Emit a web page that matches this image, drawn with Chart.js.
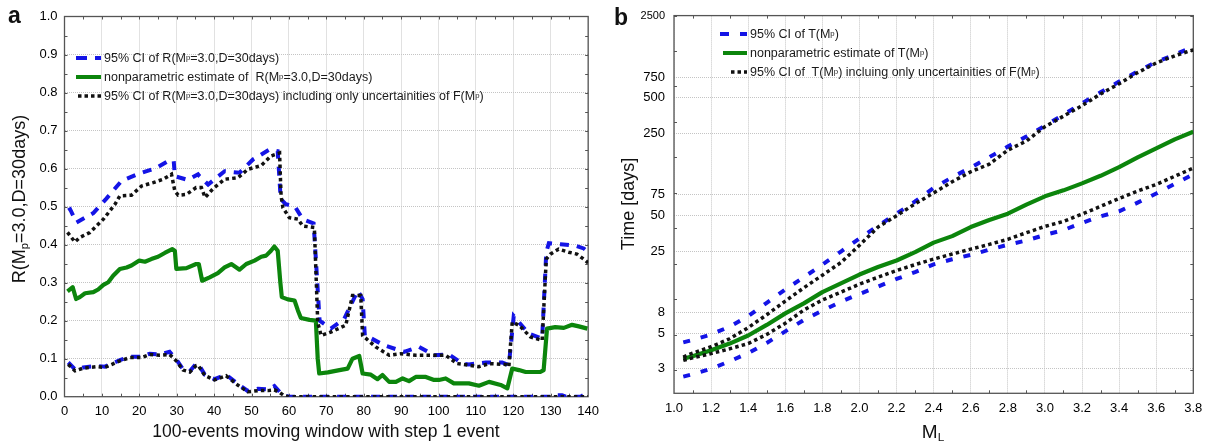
<!DOCTYPE html>
<html>
<head>
<meta charset="utf-8">
<script src="https://cdn.jsdelivr.net/npm/chart.js@4.4.0/dist/chart.umd.min.js"></script>
<style>
  body { margin:0; background:#fff; width:1212px; height:443px; overflow:hidden; position:relative;
         font-family:"Liberation Sans", Arial, sans-serif; color:#111; }
  canvas { position:absolute; top:0; }
  #ca { left:0; }
  #cb { left:606px; }
  .lbl { position:absolute; white-space:nowrap; line-height:1; }
  .panel { font-weight:bold; font-size:23px; }
  .ytitle { font-size:18px; transform:translate(-50%,-50%) rotate(-90deg); }
  .xtitle { font-size:17.5px; transform:translate(-50%,-50%); }
  .leg { position:absolute; white-space:nowrap; font-family:"Liberation Sans Narrow","Liberation Sans",sans-serif;
         font-size:12.5px; color:#1a1a1a; display:flex; align-items:center; height:18px; }
  .leg svg { margin-right:3px; }
  sub { font-size:62%; vertical-align:-0.3em; line-height:0; }
</style>
</head>
<body>
<canvas id="ca" width="606" height="443"></canvas>
<canvas id="cb" width="606" height="443"></canvas>

<div class="lbl panel" style="left:8px;top:4px;">a</div>
<div class="lbl panel" style="left:614px;top:6px;">b</div>

<div class="lbl ytitle" style="left:19px;top:199px;">R(M<sub>p</sub>=3.0,D=30days)</div>
<div class="lbl xtitle" style="left:326px;top:432px;">100-events moving window with step 1 event</div>
<div class="lbl ytitle" style="left:628px;top:204px;">Time [days]</div>
<div class="lbl xtitle" style="left:933px;top:431px;font-size:19px;">M<sub>L</sub></div>

<div class="leg" style="left:76px;top:49px;">
  <svg width="25" height="6"><line x1="0" y1="3" x2="25" y2="3" stroke="#1414e6" stroke-width="4" stroke-dasharray="11,8"/></svg>
  95% CI of R(M<sub>p</sub>=3.0,D=30days)</div>
<div class="leg" style="left:76px;top:68px;">
  <svg width="25" height="6"><line x1="0" y1="3" x2="25" y2="3" stroke="#0c850c" stroke-width="4"/></svg>
  nonparametric estimate of&nbsp; R(M<sub>p</sub>=3.0,D=30days)</div>
<div class="leg" style="left:76px;top:87px;">
  <svg width="25" height="6"><line x1="2" y1="3" x2="25" y2="3" stroke="#111" stroke-width="3.5" stroke-dasharray="3.5,3"/></svg>
  95% CI of R(M<sub>p</sub>=3.0,D=30days) including only uncertainities of F(M<sub>p</sub>)</div>

<div class="leg" style="left:720px;top:25px;">
  <svg width="27" height="6"><line x1="0" y1="3" x2="27" y2="3" stroke="#1414e6" stroke-width="4" stroke-dasharray="9,11"/></svg>
  95% CI of T(M<sub>p</sub>)</div>
<div class="leg" style="left:720px;top:44px;">
  <svg width="27" height="6"><line x1="3" y1="3" x2="27" y2="3" stroke="#0c850c" stroke-width="4"/></svg>
  nonparametric estimate of T(M<sub>p</sub>)</div>
<div class="leg" style="left:720px;top:63px;">
  <svg width="27" height="6"><line x1="11" y1="3" x2="27" y2="3" stroke="#111" stroke-width="3.5" stroke-dasharray="3.5,3"/></svg>
  95% CI of&nbsp; T(M<sub>p</sub>) incluing only uncertainities of F(M<sub>p</sub>)</div>

<script>
// ---- panel a : moving window, R(Mp=3.0, D=30days)
const aTicksX = [0, 10, 20, 30, 40, 50, 60, 70, 80, 90, 100, 110, 120, 130, 140];
const aTicksY = [0, 0.1, 0.2, 0.3, 0.4, 0.5, 0.6, 0.7, 0.8, 0.9, 1.0];

const aGreenX = [0.8, 2.2, 3.1, 4.1, 5.5, 7.7, 9, 10.4, 11.7, 13, 14.8, 16.6, 17.9, 20, 21.5, 23.2, 25, 26.8, 28.8, 29.5,
  29.9, 32.6, 35.2, 35.9, 36.8, 38.8, 41, 42.8, 44.6, 46.8, 48.6, 50.8, 52.6, 53.9, 55.2, 56.1, 57, 57.7, 58.1, 59.7,
  61.5, 62.4, 63.2, 65.5, 67.2, 67.7, 68.1, 70.4, 73.5, 75.7, 77, 78.8, 79.7, 81.9, 83.7, 85, 86.8, 88.6, 90.4, 92.1,
  93.9, 96.6, 98.8, 100.1, 101.9, 104.1, 108.1, 110.8, 113.5, 116.6, 118.4, 119.7, 121.5, 123.3, 127.2, 128.1, 129,
  131.2, 133.5, 135.7, 137.5, 139.8];
const aGreenY = [0.277, 0.288, 0.257, 0.262, 0.272, 0.275, 0.282, 0.294, 0.301, 0.318, 0.336, 0.340, 0.345, 0.358, 0.355,
  0.362, 0.368, 0.378, 0.388, 0.384, 0.336, 0.338, 0.349, 0.349, 0.305, 0.314, 0.325, 0.340, 0.349, 0.334, 0.349, 0.358,
  0.368, 0.371, 0.384, 0.395, 0.384, 0.301, 0.262, 0.256, 0.253, 0.227, 0.207, 0.202, 0.200, 0.100, 0.061, 0.064, 0.070,
  0.074, 0.100, 0.107, 0.061, 0.058, 0.046, 0.057, 0.039, 0.039, 0.048, 0.041, 0.052, 0.052, 0.044, 0.044, 0.048, 0.035,
  0.035, 0.029, 0.039, 0.031, 0.022, 0.074, 0.070, 0.065, 0.065, 0.070, 0.179, 0.183, 0.181, 0.189, 0.185, 0.179];

const aBlueUpX = [1, 1.5, 3.2, 7.7, 11.2, 15.2, 19.7, 24.6, 28.1, 29.2, 29.5, 33, 35.7, 36.1, 38.4, 42.8, 46.8, 50.4,
  54.8, 57, 57.8, 59.2, 61.5, 63.7, 66.6, 67.2, 68.2, 71.2, 74.8, 78.4, 79.7, 80.3, 81.9, 85.5, 90.8, 94.8, 98.8, 102.8,
  106.4, 108.1, 112.6, 117, 118.8, 120.1, 124.1, 127.7, 128.8, 129.5, 132.6, 136.6, 138.8, 139.8];
const aBlueUpY = [0.49, 0.493, 0.458, 0.483, 0.521, 0.567, 0.586, 0.602, 0.622, 0.62, 0.580, 0.570, 0.585, 0.580, 0.558,
  0.593, 0.589, 0.624, 0.650, 0.646, 0.52, 0.506, 0.502, 0.467, 0.456, 0.362, 0.2, 0.179, 0.205, 0.279, 0.257, 0.16,
  0.154, 0.135, 0.118, 0.131, 0.109, 0.111, 0.087, 0.085, 0.090, 0.090, 0.083, 0.212, 0.166, 0.153, 0.380, 0.404, 0.401,
  0.397, 0.39, 0.382];

const aBlackUpX = [0.8, 2.8, 4.1, 6.8, 10.4, 13.5, 14.8, 17.9, 20.6, 23.7, 26.4, 28.6, 29.5, 30.4, 32.6, 35.2, 36.6,
  37.6, 39.7, 42.8, 46.4, 49, 52.6, 55.2, 57.5, 57.9, 58.4, 60.1, 62.4, 63.7, 66.8, 67.7, 68.6, 71.2, 75.2, 77, 79.2,
  79.7, 83.2, 86.8, 89.9, 93.9, 97.5, 101.9, 105, 108.1, 110.8, 113.5, 117.9, 118.8, 119.7, 121.5, 124.6, 127.7, 128.8,
  129.9, 132.1, 134.8, 137, 139.3, 140];
const aBlackUpY = [0.432, 0.407, 0.419, 0.432, 0.467, 0.506, 0.528, 0.530, 0.554, 0.563, 0.572, 0.585, 0.541, 0.530,
  0.532, 0.550, 0.550, 0.524, 0.547, 0.572, 0.576, 0.598, 0.608, 0.633, 0.641, 0.528, 0.497, 0.471, 0.467, 0.449, 0.445,
  0.196, 0.161, 0.170, 0.188, 0.266, 0.266, 0.161, 0.131, 0.109, 0.113, 0.109, 0.109, 0.109, 0.087, 0.083, 0.079, 0.087,
  0.085, 0.079, 0.196, 0.188, 0.157, 0.148, 0.362, 0.375, 0.388, 0.380, 0.375, 0.358, 0.352];

const aBlueLoX = [1, 2.8, 5, 8.6, 10.8, 14.8, 17.5, 20.6, 22.8, 25.5, 28.1, 29.9, 31.7, 33.5, 35.2, 35.7, 37.5, 40.1,
  43.2, 46.4, 49, 51.7, 54.4, 56.1, 57.5, 58.8, 60, 130, 131, 133, 134, 138, 139, 140];
const aBlueLoY = [0.09, 0.072, 0.077, 0.081, 0.079, 0.096, 0.105, 0.105, 0.113, 0.111, 0.118, 0.098, 0.072, 0.067, 0.087,
  0.087, 0.058, 0.046, 0.058, 0.033, 0.015, 0.021, 0.019, 0.028, 0.013, 0.003, 0, 0, 0.004, 0.004, 0, 0, 0.006, 0.007];

const aBlackLoX = [1, 2.8, 5, 8.6, 10.8, 14.8, 17.5, 20.6, 22.8, 25.5, 28.1, 29.9, 31.7, 33.5, 35.2, 35.7, 37.5, 40.1,
  43.2, 46.4, 49, 51.7, 54.4, 56.1, 57.5, 58.8, 60, 140];
const aBlackLoY = [0.085, 0.068, 0.075, 0.079, 0.077, 0.094, 0.103, 0.103, 0.111, 0.109, 0.111, 0.094, 0.070, 0.065,
  0.082, 0.083, 0.056, 0.044, 0.055, 0.030, 0.013, 0.016, 0.016, 0.018, 0.011, 0.002, 0, 0];

// ---- panel b : T(Mp) vs ML, log time axis
const bTicksX = [1.0, 1.2, 1.4, 1.6, 1.8, 2.0, 2.2, 2.4, 2.6, 2.8, 3.0, 3.2, 3.4, 3.6, 3.8];
const bTicksY = [2.5, 5, 7.5, 25, 50, 75, 250, 500, 750, 2500];

const bM = [1.05, 1.1, 1.2, 1.3, 1.4, 1.5, 1.6, 1.7, 1.8, 1.9, 2.0, 2.1, 2.2, 2.3, 2.4, 2.5, 2.6, 2.7, 2.8, 2.9,
  3.0, 3.1, 3.2, 3.3, 3.4, 3.5, 3.6, 3.7, 3.8];
const bGreen = [3.05, 3.2, 3.6, 4.1, 4.8, 5.9, 7.4, 9.0, 11.2, 13.3, 15.8, 18.3, 20.8, 24.5, 29.5, 33.5, 40, 46, 52, 62,
  73, 82, 94, 109, 129, 156, 186, 222, 258];
const bBlueUp = [4.2, 4.4, 4.9, 5.7, 7.0, 9.1, 11.8, 15.0, 19.2, 24.8, 32, 41, 52, 66, 86, 106, 128, 157, 193, 235,
  290, 360, 450, 558, 688, 838, 1010, 1165, 1360];
const bBlackUp = [3.15, 3.4, 3.85, 4.5, 5.6, 7.2, 9.4, 12.2, 15.6, 20.0, 28, 40, 50, 63, 78, 97, 118, 137, 180, 215,
  285, 350, 430, 540, 660, 820, 990, 1140, 1280];
const bBlueLo = [2.15, 2.25, 2.5, 2.9, 3.4, 4.15, 5.2, 6.5, 7.8, 9.3, 10.8, 12.5, 14.5, 16.6, 19.3, 21.3, 23.2, 25.7,
  28.3, 30.8, 34.3, 37.7, 43.4, 49.4, 54.5, 64.5, 77, 93, 112];
const bBlackLo = [2.95, 3.1, 3.37, 3.7, 4.1, 4.9, 6.1, 7.9, 9.6, 11.2, 13.1, 15.0, 17.1, 19.2, 21.4, 23.6, 26, 28.5,
  31.5, 35.8, 40.5, 44.7, 51.5, 60, 70, 81, 92, 108, 127];

const BLUE = "#1414e6", GREEN = "#0c850c", BLACK = "#111111";
const FONT = "'Liberation Sans', Arial, sans-serif";

function pts(xs, ys) {
    return xs.map((x, i) => ({ x: x, y: ys[i] }));
}

function blueLine(data, dash) {
    return { data: data, borderColor: BLUE, borderWidth: 4, borderDash: dash, borderCapStyle: "butt" };
}
function blackLine(data) {
    return { data: data, borderColor: BLACK, borderWidth: 3.5, borderDash: [3.5, 3.2], borderCapStyle: "butt" };
}
function greenLine(data) {
    return { data: data, borderColor: GREEN, borderWidth: 4.2, borderJoinStyle: "round" };
}

// frame round the plot + small inward tick marks, drawn through the scales
const framePlugin = {
    id: "frame",
    beforeDatasetsDraw(chart, args, opts) {
        const { ctx, chartArea: a, scales } = chart;
        ctx.save();
        ctx.strokeStyle = "#555";
        ctx.lineWidth = 1.3;
        ctx.strokeRect(a.left, a.top, a.right - a.left, a.bottom - a.top);
        ctx.lineWidth = 1;
        ctx.beginPath();
        (opts.xMinor || []).forEach(v => {
            const px = Math.round(scales.x.getPixelForValue(v)) + 0.5;
            ctx.moveTo(px, a.bottom); ctx.lineTo(px, a.bottom - 3);
            ctx.moveTo(px, a.top); ctx.lineTo(px, a.top + 3);
        });
        (opts.yMinor || []).forEach(v => {
            const py = Math.round(scales.y.getPixelForValue(v)) + 0.5;
            ctx.moveTo(a.left, py); ctx.lineTo(a.left + 3, py);
            ctx.moveTo(a.right, py); ctx.lineTo(a.right - 3, py);
        });
        ctx.stroke();
        ctx.restore();
    }
};

function axisStyle(extra) {
    return Object.assign({
        grid: { color: "#c4c4c4", lineWidth: 1, drawTicks: false },
        border: { display: false, dash: [1, 1] },
        ticks: { color: "#000", font: { family: FONT, size: 13 }, padding: 7, autoSkip: false, maxRotation: 0 }
    }, extra);
}

const aXMinor = [], aYMinor = [];
for (let v = 5; v < 140; v += 5) aXMinor.push(v);
for (let k = 1; k < 20; k++) aYMinor.push(k * 0.05);

new Chart(document.getElementById("ca"), {
    type: "line",
    data: {
        datasets: [
            blackLine(pts(aBlackUpX, aBlackUpY)),
            blackLine(pts(aBlackLoX, aBlackLoY)),
            greenLine(pts(aGreenX, aGreenY)),
            blueLine(pts(aBlueUpX, aBlueUpY), [9, 8]),
            blueLine(pts(aBlueLoX, aBlueLoY), [9, 8])
        ]
    },
    options: {
        responsive: false,
        animation: false,
        devicePixelRatio: 1,
        layout: { padding: { left: 0, right: 16.5, top: 16.5, bottom: 0 } },
        elements: { point: { radius: 0 }, line: { tension: 0, fill: false } },
        plugins: { legend: { display: false }, tooltip: { enabled: false },
                   frame: { xMinor: aXMinor, yMinor: aYMinor } },
        scales: {
            x: axisStyle({
                type: "linear", min: 0, max: 140,
                afterBuildTicks: s => { s.ticks = aTicksX.map(v => ({ value: v })); },
                afterFit: s => { s.height = 46.3; }
            }),
            y: axisStyle({
                type: "linear", min: 0, max: 1,
                afterBuildTicks: s => { s.ticks = aTicksY.map(v => ({ value: v })); },
                afterFit: s => { s.width = 64.5; }
            })
        }
    },
    plugins: [framePlugin]
});
// tick label format for a
Chart.getChart("ca").options.scales.y.ticks.callback = v => v.toFixed(1);
Chart.getChart("ca").update();

const bXMinor = [], bYMinor = [];
for (let k = 1; k < 28; k += 2) bXMinor.push(1.0 + k * 0.1);
for (let v = 2500; v > 1.6; v /= 2) bYMinor.push(v);

new Chart(document.getElementById("cb"), {
    type: "line",
    data: {
        datasets: [
            blackLine(pts(bM, bBlackUp)),
            blackLine(pts(bM, bBlackLo)),
            greenLine(pts(bM, bGreen)),
            blueLine(pts(bM, bBlueUp), [7, 11]),
            blueLine(pts(bM, bBlueLo), [7, 11])
        ]
    },
    options: {
        responsive: false,
        animation: false,
        devicePixelRatio: 1,
        layout: { padding: { left: 0, right: 18.7, top: 15, bottom: 0 } },
        elements: { point: { radius: 0 }, line: { tension: 0, fill: false } },
        plugins: { legend: { display: false }, tooltip: { enabled: false },
                   frame: { xMinor: bXMinor, yMinor: bYMinor } },
        scales: {
            x: axisStyle({
                type: "linear", min: 1.0, max: 3.8,
                afterBuildTicks: s => { s.ticks = bTicksX.map(v => ({ value: v })); },
                afterFit: s => { s.height = 49.7; }
            }),
            y: axisStyle({
                type: "logarithmic", min: 1.55, max: 2500,
                afterBuildTicks: s => { s.ticks = bTicksY.map(v => ({ value: v })); },
                afterFit: s => { s.width = 68; }
            })
        }
    },
    plugins: [framePlugin]
});
const cb = Chart.getChart("cb");
cb.options.scales.x.ticks.callback = v => v.toFixed(1);
cb.options.scales.y.ticks.callback = v => String(Math.round(v));
cb.options.scales.y.ticks.padding = 9;
cb.options.scales.y.ticks.font = c => ({ family: FONT, size: (c.tick && c.tick.value === 2500) ? 11 : 13 });
cb.update();
</script>
</body>
</html>
